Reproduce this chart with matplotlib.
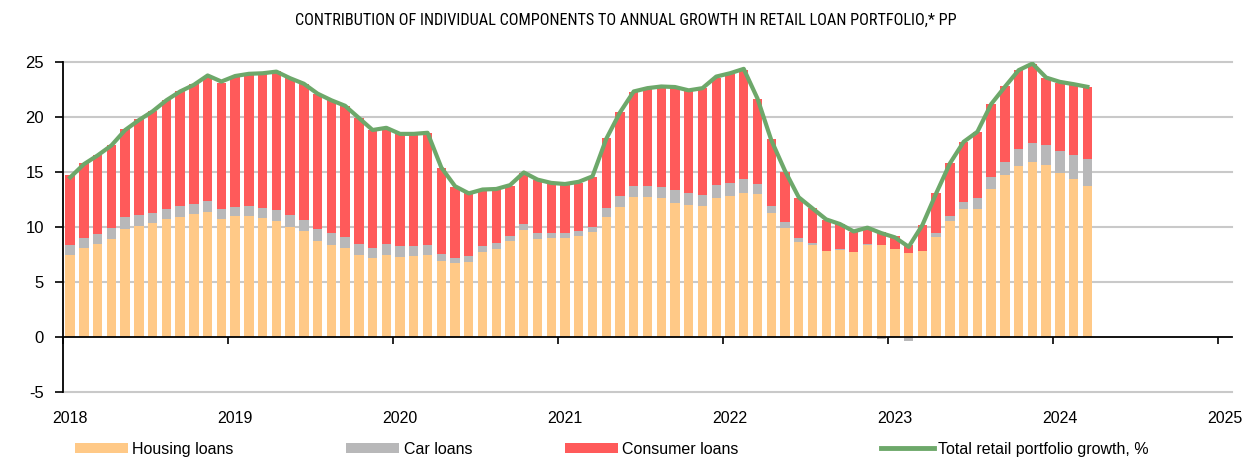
import matplotlib
matplotlib.use("Agg")
import matplotlib.pyplot as plt
import numpy as np
from matplotlib import font_manager
from matplotlib.patches import Patch
from matplotlib.lines import Line2D
from matplotlib.transforms import ScaledTranslation

# ---------------- data ----------------
years = ["2018", "2019", "2020", "2021", "2022", "2023", "2024", "2025"]
# monthly, Jan 2018 .. Mar 2024 (75 months)
housing = [7.46, 8.07, 8.46, 8.91, 9.82, 10.12, 10.36, 10.73, 10.94, 11.18, 11.36, 10.69,
           11.00, 11.03, 10.82, 10.54, 10.03, 9.64, 8.73, 8.40, 8.10, 7.49, 7.16, 7.47,
           7.27, 7.34, 7.43, 6.92, 6.74, 6.86, 7.76, 8.01, 8.73, 9.73, 8.94, 8.97,
           9.00, 9.18, 9.58, 10.94, 11.81, 12.72, 12.72, 12.60, 12.21, 11.99, 11.87, 12.63,
           12.84, 13.08, 12.99, 11.27, 9.94, 8.67, 8.34, 7.79, 7.92, 7.73, 8.40, 8.37,
           8.01, 7.64, 7.79, 9.12, 10.54, 11.63, 11.63, 13.44, 14.68, 15.53, 15.89, 15.59,
           14.89, 14.32, 13.75]
car = [0.91, 0.93, 0.94, 0.97, 1.06, 0.97, 0.91, 0.90, 0.96, 0.90, 0.97, 0.91,
       0.84, 0.90, 0.93, 0.97, 1.03, 1.02, 1.09, 1.06, 0.99, 1.00, 0.94, 1.00,
       0.97, 0.94, 0.97, 0.63, 0.45, 0.51, 0.49, 0.51, 0.42, 0.54, 0.52, 0.49,
       0.46, 0.46, 0.45, 0.78, 1.00, 1.03, 1.03, 1.03, 1.11, 1.09, 1.06, 1.17,
       1.18, 1.27, 0.91, 0.63, 0.48, 0.30, 0.21, 0.05, 0.04, 0.02, 0.02, -0.18,
       0.00, -0.30, 0.00, 0.34, 0.49, 0.67, 0.97, 1.09, 1.24, 1.54, 1.72, 1.87,
       2.00, 2.18, 2.41]
consumer = [6.34, 6.77, 7.10, 7.58, 8.03, 8.67, 9.24, 9.88, 10.46, 10.91, 11.36, 11.51,
            11.85, 12.00, 12.21, 12.63, 12.50, 12.36, 12.29, 12.05, 11.88, 11.36, 10.69, 10.35,
            10.16, 10.06, 10.09, 7.77, 6.41, 5.68, 5.10, 4.89, 4.57, 4.65, 4.80, 4.50,
            4.35, 4.38, 4.53, 6.32, 7.64, 8.52, 8.82, 9.09, 9.34, 9.28, 9.64, 9.75,
            9.86, 9.94, 7.76, 6.05, 4.60, 3.63, 3.14, 2.79, 2.31, 1.83, 1.46, 1.21,
            1.20, 0.73, 2.39, 3.65, 4.74, 5.43, 6.04, 6.62, 6.86, 7.22, 7.16, 6.07,
            6.22, 6.43, 6.56]
total = [14.5, 15.7, 16.5, 17.4, 18.8, 19.7, 20.5, 21.5, 22.3, 22.9, 23.75, 23.2,
         23.7, 23.9, 23.95, 24.1, 23.5, 23.0, 22.1, 21.5, 21.0, 19.9, 18.8, 19.0,
         18.45, 18.45, 18.55, 15.4, 13.7, 13.05, 13.4, 13.45, 13.8, 14.95, 14.3, 14.0,
         13.9, 14.1, 14.6, 18.0, 20.4, 22.3, 22.6, 22.75, 22.7, 22.4, 22.6, 23.65,
         23.95, 24.35, 21.66, 17.9, 15.1, 12.7, 11.69, 10.69, 10.27, 9.6, 9.94, 9.45,
         9.06, 8.2, 10.18, 13.05, 15.77, 17.73, 18.64, 21.15, 22.72, 24.23, 24.83, 23.56,
         23.17, 22.96, 22.72]

series_names = ["Housing loans", "Car loans", "Consumer loans"]
line_name = "Total retail portfolio growth, %"
title = "CONTRIBUTION OF INDIVIDUAL COMPONENTS TO ANNUAL GROWTH IN RETAIL LOAN PORTFOLIO,* PP"

# ---------------- style ----------------
c_housing = "#FFC987"
c_car = "#B8B8B9"
c_consumer = "#FF5A5A"
c_line = "#6DA86A"
c_grid = "#C9C9C9"

installed = {f.name for f in font_manager.fontManager.ttflist}
def pick(*names):
    for n in names:
        if n in installed:
            return n
    return "DejaVu Sans"

title_font = pick("Liberation Sans Narrow", "Roboto Condensed", "Liberation Sans")
body_font = pick("Liberation Sans", "Roboto", "DejaVu Sans")
plt.rcParams["font.family"] = [body_font, "DejaVu Sans"]
plt.rcParams["axes.unicode_minus"] = False

W, H = 1251, 461
fig = plt.figure(figsize=(W / 100, H / 100), dpi=100)
ax = fig.add_axes([63.3 / W, 1 - 392.3 / H, (1231.7 - 63.3) / W, (392.3 - 61.7) / H])

n = len(housing)
x = np.arange(n) + 0.5
bw = 0.68

pos_base = np.zeros(n)
neg_base = np.zeros(n)
for vals, col in zip([housing, car, consumer], [c_housing, c_car, c_consumer]):
    v = np.array(vals, dtype=float)
    bottoms = np.where(v >= 0, pos_base, neg_base)
    ax.bar(x, v, bw, bottom=bottoms, color=col, linewidth=0, zorder=2)
    pos_base = pos_base + np.where(v >= 0, v, 0)
    neg_base = neg_base + np.where(v < 0, v, 0)

ax.plot(x, total, color=c_line, lw=3.0, zorder=4, solid_joinstyle="round")

ax.set_xlim(0, 85)
ax.set_ylim(-5, 25)
ax.set_yticks([-5, 0, 5, 10, 15, 20, 25])
ax.set_xticks(np.arange(0, 85, 12))
ax.set_xticklabels(years)

for yv in [-5, 5, 10, 15, 20, 25]:
    ax.axhline(yv, color=c_grid, lw=1.5, zorder=1, clip_on=False)

for s in ["top", "right"]:
    ax.spines[s].set_visible(False)
ax.spines["bottom"].set_position(("data", 0))
ax.spines["bottom"].set_zorder(5)
ax.spines["bottom"].set_linewidth(1.3)
ax.spines["left"].set_linewidth(1.3)

ax.tick_params(axis="x", direction="out", length=5, width=1.2, pad=48, labelsize=11.5,
               colors="black")
ax.tick_params(axis="y", direction="out", length=6, width=1.2, pad=8, labelsize=12)

shift = ScaledTranslation(6.5 / 100, 0, fig.dpi_scale_trans)
for lab in ax.get_xticklabels():
    lab.set_transform(lab.get_transform() + shift)

fig.text(0.5, 1 - 20 / H, title, ha="center", va="center", fontsize=11.7,
         family=[title_font, "DejaVu Sans"])

handles = [Patch(facecolor=c_housing, edgecolor="none"),
           Patch(facecolor=c_car, edgecolor="none"),
           Patch(facecolor=c_consumer, edgecolor="none"),
           Line2D([0], [0], color=c_line, lw=3.5)]
labels = series_names + [line_name]
xpos = [75, 346, 565, 881]
fs = 11.5
for h, lab, xp in zip(handles, labels, xpos):
    fig.legend([h], [lab], loc="center left", bbox_to_anchor=(xp / W, 1 - 449 / H),
               frameon=False, fontsize=fs, borderpad=0, borderaxespad=0,
               handlelength=3.3, handleheight=0.6, handletextpad=0.3)

fig.savefig("out.png", dpi=100)
